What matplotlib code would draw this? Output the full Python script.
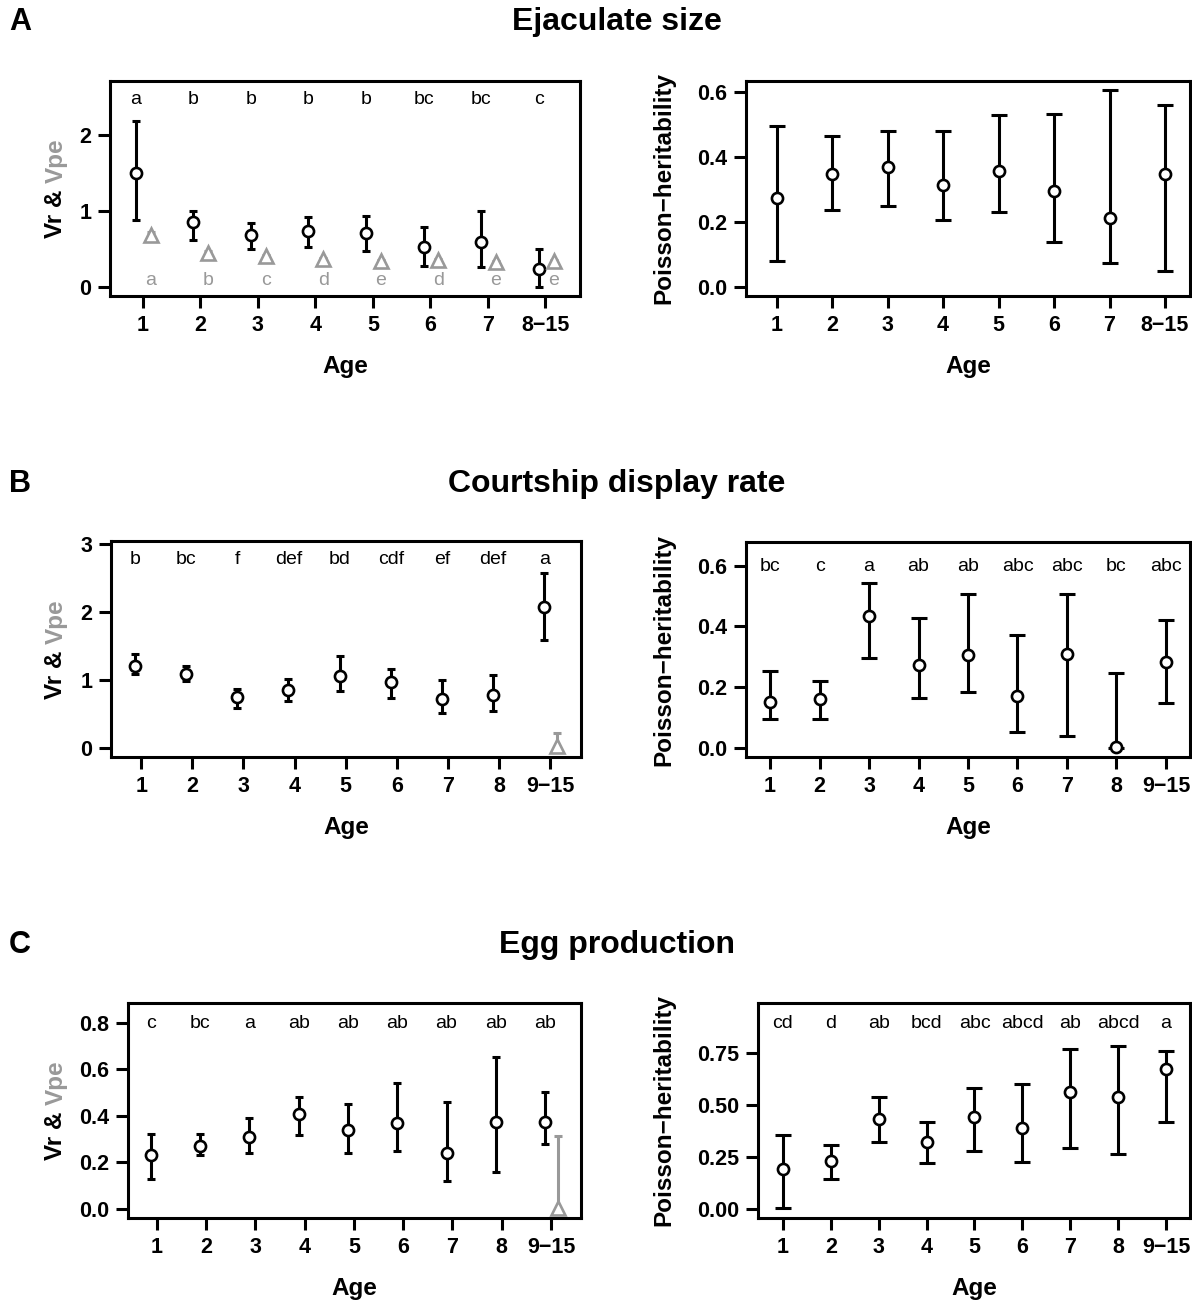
import numpy as np
import matplotlib.pyplot as plt

plt.rcParams['font.family'] = ['Liberation Sans', 'DejaVu Sans']

GREY = '#999999'
W, H = 1192, 1304

# ---- A: ejaculate size ----
ages_a = ['1', '2', '3', '4', '5', '6', '7', '8\u221215']
vr_a = [1.51, 0.85, 0.69, 0.73, 0.71, 0.52, 0.59, 0.23]
vr_a_lo = [0.88, 0.62, 0.50, 0.52, 0.47, 0.27, 0.26, 0.00]
vr_a_hi = [2.19, 1.00, 0.84, 0.92, 0.93, 0.79, 1.00, 0.50]
vpe_a = [0.69, 0.45, 0.40, 0.36, 0.335, 0.35, 0.325, 0.335]
vpe_a_lo = [0.62, 0.43, 0.38, 0.34, 0.32, 0.33, 0.31, 0.32]
vpe_a_hi = [0.72, 0.47, 0.42, 0.38, 0.35, 0.37, 0.34, 0.35]
sig_vr_a = ['a', 'b', 'b', 'b', 'b', 'bc', 'bc', 'c']
sig_vpe_a = ['a', 'b', 'c', 'd', 'e', 'd', 'e', 'e']
h2_a = [0.274, 0.347, 0.370, 0.313, 0.356, 0.296, 0.213, 0.349]
h2_a_lo = [0.079, 0.238, 0.250, 0.205, 0.231, 0.138, 0.074, 0.049]
h2_a_hi = [0.496, 0.466, 0.480, 0.480, 0.529, 0.532, 0.608, 0.562]

# ---- B: courtship display rate ----
ages_b = ['1', '2', '3', '4', '5', '6', '7', '8', '9\u221215']
vr_b = [1.205, 1.09, 0.753, 0.856, 1.06, 0.964, 0.713, 0.772, 2.08]
vr_b_lo = [1.087, 0.98, 0.58, 0.684, 0.83, 0.733, 0.507, 0.54, 1.584]
vr_b_hi = [1.38, 1.21, 0.87, 1.02, 1.35, 1.166, 1.0, 1.067, 2.577]
vpe_b = [np.nan] * 8 + [0.02]
vpe_b_lo = [np.nan] * 8 + [0.0]
vpe_b_hi = [np.nan] * 8 + [0.22]
sig_vr_b = ['b', 'bc', 'f', 'def', 'bd', 'cdf', 'ef', 'def', 'a']
h2_b = [0.152, 0.161, 0.435, 0.272, 0.305, 0.172, 0.308, 0.003, 0.282]
h2_b_lo = [0.094, 0.094, 0.297, 0.165, 0.184, 0.052, 0.038, 0.0, 0.149]
h2_b_hi = [0.253, 0.220, 0.544, 0.427, 0.506, 0.371, 0.506, 0.245, 0.422]
sig_h2_b = ['bc', 'c', 'a', 'ab', 'ab', 'abc', 'abc', 'bc', 'abc']

# ---- C: egg production ----
ages_c = ['1', '2', '3', '4', '5', '6', '7', '8', '9\u221215']
vr_c = [0.23, 0.27, 0.31, 0.408, 0.339, 0.369, 0.238, 0.372, 0.375]
vr_c_lo = [0.129, 0.23, 0.238, 0.319, 0.238, 0.249, 0.118, 0.16, 0.277]
vr_c_hi = [0.32, 0.322, 0.392, 0.481, 0.451, 0.54, 0.46, 0.654, 0.504]
vpe_c = [np.nan] * 8 + [0.005]
vpe_c_lo = [np.nan] * 8 + [0.0]
vpe_c_hi = [np.nan] * 8 + [0.315]
sig_vr_c = ['c', 'bc', 'a', 'ab', 'ab', 'ab', 'ab', 'ab', 'ab']
h2_c = [0.194, 0.229, 0.431, 0.32, 0.441, 0.388, 0.5625, 0.537, 0.673]
h2_c_lo = [0.005, 0.144, 0.32, 0.221, 0.277, 0.224, 0.293, 0.264, 0.42]
h2_c_hi = [0.354, 0.308, 0.537, 0.417, 0.579, 0.598, 0.768, 0.782, 0.761]
sig_h2_c = ['cd', 'd', 'ab', 'bcd', 'abc', 'abcd', 'ab', 'abcd', 'a']


def px_axes(fig, x0, x1, y0, y1):
    return fig.add_axes([x0 / W, 1 - y1 / H, (x1 - x0) / W, (y1 - y0) / H])


def style(ax, labels, yticks, yticklabels, xlim, ylim):
    n = len(labels)
    ax.set_xlim(*xlim)
    ax.set_ylim(*ylim)
    ax.set_xticks(np.arange(1, n + 1))
    ax.set_xticklabels(labels, fontsize=15.5, fontweight='bold')
    ax.set_yticks(yticks)
    ax.set_yticklabels(yticklabels, fontsize=15.5, fontweight='bold')
    ax.tick_params(direction='out', length=8.5, width=2.2, pad=5)
    for s in ax.spines.values():
        s.set_linewidth(2.2)
    ax.set_xlabel('Age', fontsize=17.5, fontweight='bold', labelpad=14)


def errbars(ax, x, y, lo, hi, color, cap, marker, ms, z=3):
    x = np.asarray(x, float)
    y = np.asarray(y, float)
    lo = np.asarray(lo, float)
    hi = np.asarray(hi, float)
    ok = ~np.isnan(y)
    ax.errorbar(x[ok], y[ok], yerr=[y[ok] - lo[ok], hi[ok] - y[ok]], fmt='none',
                ecolor=color, elinewidth=2.2, capsize=cap, capthick=2.2, zorder=z)
    ax.plot(x[ok], y[ok], linestyle='none', marker=marker, ms=ms, mfc='white',
            mec=color, mew=1.9, zorder=z + 1)


def two_colour_ylabel(fig, xpx, ax):
    bb = ax.get_position()
    ymid = bb.y0 + bb.height / 2
    r = fig.canvas.get_renderer()
    kw = dict(fontsize=17.5, fontweight='bold', rotation=90)
    full = fig.text(0, 0, 'Vr & Vpe', **kw)
    tail = fig.text(0, 0, 'Vpe', **kw)
    hf = full.get_window_extent(r).height / H
    ht = tail.get_window_extent(r).height / H
    full.remove()
    tail.remove()
    ystart = ymid - hf / 2
    fig.text(xpx / W, ystart, 'Vr & ', color='black', ha='center', va='bottom', **kw)
    fig.text(xpx / W, ystart + hf - ht, 'Vpe', color=GREY, ha='center', va='bottom', **kw)


def left_panel(fig, box, labels, vr, lo, hi, vpe, plo, phi, sig, sig_y, yticks, yticklabels,
               xlim, ylim, sig2=None, sig2_y=None):
    ax = px_axes(fig, *box)
    x = np.arange(1, len(labels) + 1)
    errbars(ax, x - 0.12, vr, lo, hi, 'black', 3.0, 'o', 8)
    errbars(ax, x + 0.14, vpe, plo, phi, GREY, 3.0, '^', 9.5, z=5)
    for xi, s in zip(x, sig):
        ax.text(xi - 0.12, sig_y, s, ha='center', va='center', fontsize=14)
    if sig2 is not None:
        for xi, s in zip(x, sig2):
            ax.text(xi + 0.14, sig2_y, s, ha='center', va='center', fontsize=14, color=GREY)
    style(ax, labels, yticks, yticklabels, xlim, ylim)
    return ax


def right_panel(fig, box, labels, h2, lo, hi, yticks, yticklabels, xlim, ylim,
                sig=None, sig_y=None):
    ax = px_axes(fig, *box)
    x = np.arange(1, len(labels) + 1)
    errbars(ax, x, h2, lo, hi, 'black', 5.8, 'o', 8)
    if sig is not None:
        for xi, s in zip(x, sig):
            ax.text(xi, sig_y, s, ha='center', va='center', fontsize=14)
    style(ax, labels, yticks, yticklabels, xlim, ylim)
    ax.set_ylabel('Poisson\u2212heritability', fontsize=17.5, fontweight='bold')
    ax.yaxis.set_label_coords(-(box[0] - 675) / (box[1] - box[0]), 0.5)
    return ax


fig = plt.figure(figsize=(W / 100, H / 100), dpi=100)

# titles
for letter, title, ypx in [('A', 'Ejaculate size', 22), ('B', 'Courtship display rate', 484),
                           ('C', 'Egg production', 945)]:
    fig.text(20 / W, 1 - ypx / H, letter, fontsize=22, fontweight='bold', ha='center', va='center')
    fig.text(617 / W, 1 - ypx / H, title, fontsize=23, fontweight='bold', ha='center', va='center')

axA = left_panel(fig, (110, 580, 81, 296), ages_a, vr_a, vr_a_lo, vr_a_hi, vpe_a, vpe_a_lo, vpe_a_hi,
                 sig_vr_a, 2.48, [0, 1, 2], ['0', '1', '2'], (0.43, 8.6), (-0.123, 2.72),
                 sig2=sig_vpe_a, sig2_y=0.08)
right_panel(fig, (746, 1190, 81, 296), ages_a, h2_a, h2_a_lo, h2_a_hi,
            [0, 0.2, 0.4, 0.6], ['0.0', '0.2', '0.4', '0.6'], (0.45, 8.45), (-0.029, 0.635))

axB = left_panel(fig, (111, 581, 541, 757), ages_b, vr_b, vr_b_lo, vr_b_hi, vpe_b, vpe_b_lo, vpe_b_hi,
                 sig_vr_b, 2.78, [0, 1, 2, 3], ['0', '1', '2', '3'], (0.41, 9.6), (-0.138, 3.05))
right_panel(fig, (746, 1190, 542, 757), ages_b, h2_b, h2_b_lo, h2_b_hi,
            [0, 0.2, 0.4, 0.6], ['0.0', '0.2', '0.4', '0.6'], (0.515, 9.485), (-0.030, 0.678),
            sig=sig_h2_b, sig_y=0.597)

axC = left_panel(fig, (128, 581, 1003, 1218), ages_c, vr_c, vr_c_lo, vr_c_hi, vpe_c, vpe_c_lo, vpe_c_hi,
                 sig_vr_c, 0.796, [0, 0.2, 0.4, 0.6, 0.8], ['0.0', '0.2', '0.4', '0.6', '0.8'],
                 (0.414, 9.61), (-0.040, 0.886))
right_panel(fig, (758, 1190, 1003, 1218), ages_c, h2_c, h2_c_lo, h2_c_hi,
            [0, 0.25, 0.5, 0.75], ['0.00', '0.25', '0.50', '0.75'], (0.48, 9.5), (-0.043, 0.989),
            sig=sig_h2_c, sig_y=0.893)

for ax in (axA, axB, axC):
    two_colour_ylabel(fig, 56, ax)

fig.savefig('out.png', dpi=100)
